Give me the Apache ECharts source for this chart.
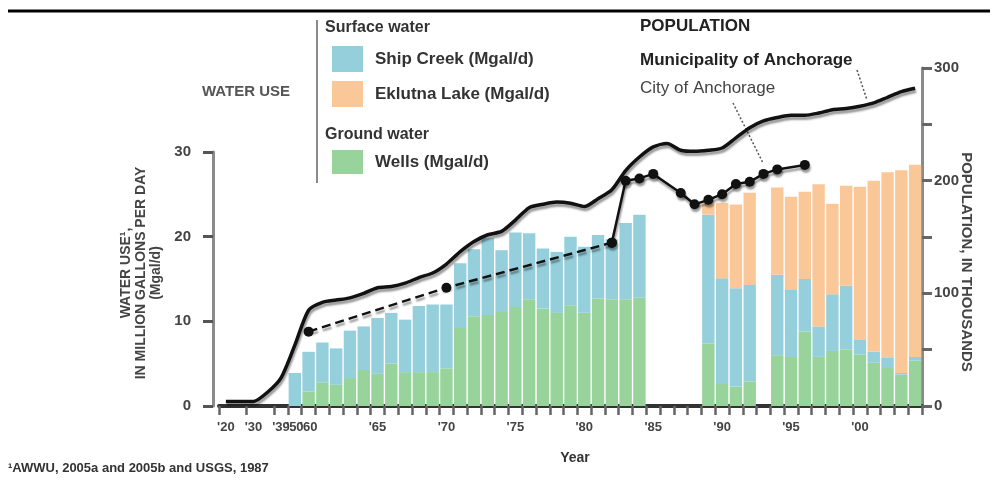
<!DOCTYPE html>
<html><head><meta charset="utf-8">
<script src="https://cdn.jsdelivr.net/npm/echarts@6/dist/echarts.min.js"></script>
<style>html,body{margin:0;padding:0;background:#fff}#c{width:998px;height:489px}</style>
</head><body><div id="c"></div>
<script>
// Category slots (early years compressed, then yearly from 1960)
const categories = ['1920','1925','1930','1935','1939','1950',
 '1960','1961','1962','1963','1964','1965','1966','1967','1968','1969',
 '1970','1971','1972','1973','1974','1975','1976','1977','1978','1979',
 '1980','1981','1982','1983','1984','1985','1986','1987','1988','1989',
 '1990','1991','1992','1993','1994','1995','1996','1997','1998','1999',
 '2000','2001','2002','2003','2004'];
const labeledYears = ['1920','1930','1939','1950','1960','1965','1970','1975','1980','1985','1990','1995','2000'];
const leftTicks = [0, 10, 20, 30];
const rightTicks = [0, 100, 200, 300];

// Water use, Mgal/d
const wells = [null,null,null,null,null,0,
 1.7,2.8,2.5,3.3,4.25,3.8,5.0,4.0,4.0,4.0,
 4.45,9.2,10.6,10.75,11.1,11.7,12.6,11.5,11.0,11.9,
 11.0,12.7,12.6,12.6,12.8,null,null,null,null,7.4,
 2.6,2.3,2.9,null,6.0,5.8,8.8,5.8,6.5,6.7,
 6.1,5.1,4.6,3.7,5.35];
const shipCreek = [null,null,null,null,null,3.9,
 4.7,4.7,4.3,5.6,5.15,6.6,6.0,6.2,7.8,8.0,
 7.55,7.65,7.9,9.05,7.3,8.8,7.8,7.1,7.2,8.1,
 7.8,7.5,7.1,9.0,9.8,null,null,null,null,15.2,
 12.5,11.6,11.4,null,9.5,8.0,6.2,3.6,6.7,7.5,
 1.7,1.3,1.15,0.2,0.45];
const eklutna = [null,null,null,null,null,null,
 null,null,null,null,null,null,null,null,null,null,
 null,null,null,null,null,null,null,null,null,null,
 null,null,null,null,null,null,null,null,null,1.3,
 8.9,9.9,10.9,null,10.3,10.9,10.3,16.8,10.7,11.8,
 18.1,20.2,21.85,23.95,22.7];

// Population, thousands
const municipality = [4,4,4,12,25,54,
 85,92,94,96,100,105,106,109,114,118,
 126,137,146,152,155,165,176,179,181,180,
 177,184,192,209,221,230,233,227,226,227,
 229,238,247,253,256,258,258,260,263,264,
 266,269,274,279,282];
const cityEstimated = [null,null,null,null,null,null,
 66,null,null,null,null,null,null,null,null,null,
 105,null,null,null,null,null,null,null,null,null,
 null,null,145,null,null,null,null,null,null,null,
 null,null,null,null,null,null,null,null,null,null,
 null,null,null,null,null];
const cityCensus = [null,null,null,null,null,null,
 null,null,null,null,null,null,null,null,null,null,
 null,null,null,null,null,null,null,null,null,null,
 null,null,145,200,202,206,null,189,179,183,
 188,197,199,206,210,null,214,null,null,null,
 null,null,null,null,null];

const FONT = "'Liberation Sans', Arial, sans-serif";
const NARROW = "'Liberation Sans Narrow', 'Liberation Sans', Arial, sans-serif";
const C_BLUE = '#95cfdc', C_ORANGE = '#fac898', C_GREEN = '#98d39c';

const chart = echarts.init(document.getElementById('c'), null, {renderer: 'canvas'});
const shadow = {shadowColor: 'rgba(0,0,0,0.4)', shadowBlur: 2, shadowOffsetX: 1, shadowOffsetY: 3};

chart.setOption({
  animation: false,
  backgroundColor: '#fff',
  textStyle: {fontFamily: FONT},
  grid: [
    {left: 219, right: 76, top: 152, height: 254},
    {left: 219, right: 76, top: 68, height: 338}
  ],
  legend: [
    {data: ['Ship Creek (Mgal/d)', 'Eklutna Lake (Mgal/d)'], orient: 'vertical', left: 332, top: 46,
     padding: 0, itemWidth: 31, itemHeight: 26, itemGap: 9, icon: 'rect', selectedMode: false,
     textStyle: {fontSize: 17, fontWeight: 'bold', color: '#333', fontFamily: FONT, padding: [0,0,0,7]}},
    {data: ['Wells (Mgal/d)'], orient: 'vertical', left: 332, top: 150,
     padding: 0, itemWidth: 31, itemHeight: 24, icon: 'rect', selectedMode: false,
     textStyle: {fontSize: 17, fontWeight: 'bold', color: '#333', fontFamily: FONT, padding: [0,0,0,7]}}
  ],
  xAxis: [
    {type: 'category', gridIndex: 0, data: categories,
     axisLine: {lineStyle: {color: '#333', width: 4}},
     axisTick: {show: true, length: 9, interval: (i) => i >= 4 || i === 2 || i === 0,
                lineStyle: {color: '#666', width: 2.5}},
     axisLabel: {interval: (i, v) => labeledYears.indexOf(v) >= 0,
                 formatter: (v) => "'" + v.slice(2), fontSize: 13, fontWeight: 'bold',
                 color: '#444', margin: 15, fontFamily: NARROW}},
    {type: 'category', gridIndex: 1, data: categories, show: false}
  ],
  yAxis: [
    {type: 'value', gridIndex: 0, min: leftTicks[0], max: leftTicks[leftTicks.length-1], interval: 10,
     offset: 6, position: 'left',
     axisLine: {show: true, lineStyle: {color: '#8a8a8a', width: 3}},
     axisTick: {show: true, length: 10, lineStyle: {color: '#555', width: 3}},
     axisLabel: {fontSize: 15, fontWeight: 'bold', color: '#444', margin: 22, fontFamily: NARROW},
     splitLine: {show: false}},
    {type: 'value', gridIndex: 1, min: rightTicks[0], max: rightTicks[rightTicks.length-1], interval: 50,
     position: 'right',
     axisLine: {show: true, lineStyle: {color: '#8a8a8a', width: 3}},
     axisTick: {show: true, length: 10, lineStyle: {color: '#666', width: 3}},
     axisLabel: {fontSize: 15, fontWeight: 'bold', color: '#444', margin: 12, fontFamily: NARROW,
                 formatter: (v) => rightTicks.indexOf(v) >= 0 ? String(v) : ''},
     splitLine: {show: false}}
  ],
  series: [
    {name: 'Wells (Mgal/d)', type: 'bar', stack: 'w', xAxisIndex: 0, yAxisIndex: 0, data: wells,
     barCategoryGap: '10%', itemStyle: {color: C_GREEN}},
    {name: 'Ship Creek (Mgal/d)', type: 'bar', stack: 'w', xAxisIndex: 0, yAxisIndex: 0, data: shipCreek,
     barCategoryGap: '10%', itemStyle: {color: C_BLUE}},
    {name: 'Eklutna Lake (Mgal/d)', type: 'bar', stack: 'w', xAxisIndex: 0, yAxisIndex: 0, data: eklutna,
     barCategoryGap: '10%', itemStyle: {color: C_ORANGE}},
    {name: 'Municipality of Anchorage', type: 'line', xAxisIndex: 1, yAxisIndex: 1, data: municipality,
     symbol: 'none', smooth: 0.25, z: 5,
     lineStyle: Object.assign({color: '#111', width: 3.5}, shadow)},
    {name: 'City of Anchorage (estimated)', type: 'line', xAxisIndex: 1, yAxisIndex: 1, data: cityEstimated,
     connectNulls: true, symbol: 'circle', symbolSize: 10, showAllSymbol: true, z: 6,
     itemStyle: {color: '#111'},
     lineStyle: Object.assign({color: '#111', width: 2.5, type: [9, 5]}, shadow)},
    {name: 'City of Anchorage', type: 'line', xAxisIndex: 1, yAxisIndex: 1, data: cityCensus,
     connectNulls: true, symbol: 'circle', symbolSize: 10, showAllSymbol: true, z: 6,
     itemStyle: Object.assign({color: '#111'}, shadow),
     lineStyle: Object.assign({color: '#111', width: 2.5}, shadow)}
  ],
  graphic: [
    {type: 'line', shape: {x1: 8, y1: 11, x2: 990, y2: 11}, style: {stroke: '#000', lineWidth: 3}},
    {type: 'line', shape: {x1: 317, y1: 20, x2: 317, y2: 183}, style: {stroke: '#8a8a8a', lineWidth: 2}},
    {type: 'rect', shape: {x: 332, y: 68, width: 31, height: 4}, style: {fill: '#5f8f98'}},
    {type: 'rect', shape: {x: 332, y: 103, width: 31, height: 4}, style: {fill: '#a8774f'}},
    {type: 'rect', shape: {x: 332, y: 171, width: 31, height: 3}, style: {fill: '#8fb592'}},
    {type: 'text', x: 202, y: 92, style: {text: 'WATER USE', font: 'bold 15px ' + FONT, fill: '#555', verticalAlign: 'middle'}},
    {type: 'text', x: 325, y: 28, style: {text: 'Surface water', font: 'bold 16px ' + FONT, fill: '#333', verticalAlign: 'middle'}},
    {type: 'text', x: 325, y: 135, style: {text: 'Ground water', font: 'bold 16px ' + FONT, fill: '#333', verticalAlign: 'middle'}},
    {type: 'text', x: 640, y: 26, style: {text: 'POPULATION', font: 'bold 17px ' + FONT, fill: '#222', verticalAlign: 'middle'}},
    {type: 'text', x: 640, y: 60, style: {text: 'Municipality of Anchorage', font: 'bold 17px ' + FONT, fill: '#222', verticalAlign: 'middle'}},
    {type: 'text', x: 640, y: 88, style: {text: 'City of Anchorage', font: '17px ' + FONT, fill: '#444', verticalAlign: 'middle'}},
    {type: 'line', shape: {x1: 857, y1: 70, x2: 867, y2: 100}, style: {stroke: '#555', lineWidth: 1.5, lineDash: [2, 2]}},
    {type: 'line', shape: {x1: 733, y1: 103, x2: 763, y2: 163}, style: {stroke: '#555', lineWidth: 1.5, lineDash: [2, 2]}},
    {type: 'text', x: 141, y: 273, rotation: Math.PI / 2,
     style: {text: 'WATER USE\u00B9,\nIN MILLION GALLONS PER DAY\n(Mgal/d)', font: 'bold 14px ' + FONT,
             fill: '#444', align: 'center', verticalAlign: 'middle', lineHeight: 15}},
    {type: 'text', x: 966, y: 262, rotation: -Math.PI / 2,
     style: {text: 'POPULATION, IN THOUSANDS', font: 'bold 15px ' + FONT, fill: '#444', align: 'center', verticalAlign: 'middle'}},
    {type: 'text', x: 575, y: 458, style: {text: 'Year', font: 'bold 14px ' + FONT, fill: '#333', align: 'center', verticalAlign: 'middle'}},
    {type: 'text', x: 8, y: 468, style: {text: '\u00B9AWWU, 2005a and 2005b and USGS, 1987', font: 'bold 13px ' + FONT, fill: '#333', verticalAlign: 'middle'}}
  ]
});
</script></body></html>
